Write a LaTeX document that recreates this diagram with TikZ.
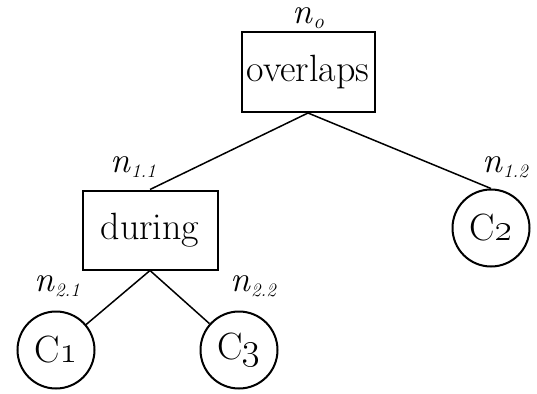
\RequirePackage{fix-cm}
\documentclass[tikz,border=0pt]{standalone}
\usetikzlibrary{positioning}
\tikzset{
  opbox/.style={draw, line width=2pt, rectangle, minimum width=133pt, minimum height=80pt, inner sep=0pt, font=\fontsize{38}{44}\selectfont},
  leaf/.style={draw, line width=2pt, circle, minimum size=77pt, inner sep=0pt, font=\fontsize{38}{44}\selectfont},
  tag/.style={inner sep=0pt, font=\fontsize{36}{42}\selectfont},
  branch/.style={line width=1.5pt}
}
% node name: italic n with a lowered, smaller italic index
\newcommand{\nname}[2][21]{\textit{n}\kern0.5pt\raisebox{-5pt}{\fontsize{#1}{24}\selectfont\itshape #2}}
\begin{document}
\begin{tikzpicture}[x=1pt,y=-1pt]
  \useasboundingbox (0,0) rectangle (537,393);
  % operator nodes
  \node[opbox] (ov) at (308,72) {overlaps};
  \node[opbox, minimum width=135pt, minimum height=79pt] (du) at (150,230) {during};
  % leaves
  \node[leaf] (c2) at (491,228) {C\oldstylenums{2}};
  \node[leaf] (c1) at (56,350) {C\oldstylenums{1}};
  \node[leaf] (c3) at (239,350) {C\oldstylenums{3}};
  % node names
  \node[tag] (l0) at (308,18) {\nname{o}};
  \node[tag] (l11) at (133,167) {\nname[19]{1.1}};
  \node[tag] (l12) at (505,167) {\nname[19]{1.2}};
  \node[tag] (l21) at (57,286) {\nname[19]{2.1}};
  \node[tag] (l22) at (253,286) {\nname[19]{2.2}};
  % tree edges
  \draw[branch] (ov.south) -- (du.north);
  \draw[branch] (ov.south) -- (c2.north);
  \draw[branch] (du.south) -- (c1);
  \draw[branch] (du.south) -- (c3);
\end{tikzpicture}
\end{document}
